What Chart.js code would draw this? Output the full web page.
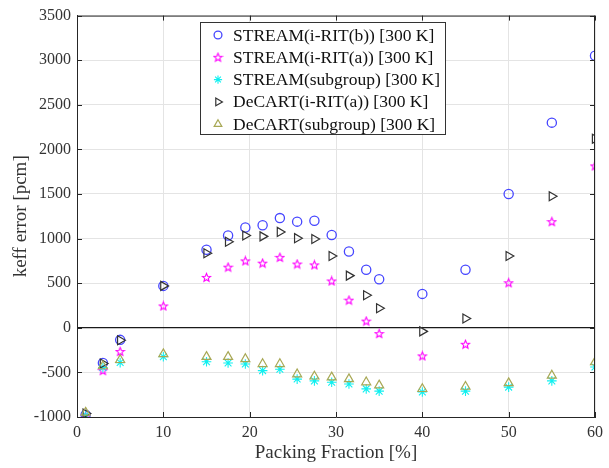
<!DOCTYPE html>
<html><head><meta charset="utf-8">
<script src="https://cdn.jsdelivr.net/npm/chart.js@4/dist/chart.umd.min.js"></script>
<style>html,body{margin:0;padding:0;background:#fff}#wrap{width:609px;height:468px;position:relative}</style>
</head><body><div id="wrap"><canvas id="c"></canvas></div>
<script>
// ---- data ----
const packingFraction = [1,3,5,10,15,17.5,19.5,21.5,23.5,25.5,27.5,29.5,31.5,33.5,35,40,45,50,55,60];
const streamIritB    = [-975,-395,-135,470,875,1035,1125,1150,1230,1190,1200,1040,855,650,545,380,650,1500,2300,3050];
const streamIritA    = [-990,-480,-265,245,565,680,750,725,790,715,705,525,310,75,-65,-315,-185,505,1190,1815];
const streamSubgroup = [-980,-445,-390,-325,-380,-395,-405,-480,-465,-575,-595,-610,-630,-685,-710,-720,-710,-665,-595,-440];
const decartIritA    = [-960,-400,-140,470,835,965,1035,1025,1075,1005,995,805,585,365,220,-40,105,805,1475,2120];
const decartSubgroup = [-950,-430,-360,-295,-325,-325,-350,-405,-405,-520,-545,-555,-575,-610,-645,-685,-660,-620,-535,-385];
const seriesLabels = ['STREAM(i-RIT(b)) [300 K]','STREAM(i-RIT(a)) [300 K]','STREAM(subgroup) [300 K]','DeCART(i-RIT(a)) [300 K]','DeCART(subgroup) [300 K]'];
const xAxisTitle = 'Packing Fraction [%]';
const yAxisTitle = 'keff error [pcm]';

const FONT = "'Liberation Serif','Times New Roman',serif";

// five-pointed star marker
function makeStar(color){
  const c = document.createElement('canvas');
  c.width = 11; c.height = 11;
  const g = c.getContext('2d');
  g.strokeStyle = color; g.lineWidth = 1.1;
  g.beginPath();
  const cx = 5.5, cy = 5.8, ro = 4.3, ri = 1.9;
  for (let i = 0; i < 10; i++){
    const r = i % 2 ? ri : ro;
    const a = -Math.PI/2 + i*Math.PI/5;
    const px = cx + r*Math.cos(a), py = cy + r*Math.sin(a);
    if (i === 0) g.moveTo(px, py); else g.lineTo(px, py);
  }
  g.closePath(); g.stroke();
  return c;
}
const starImg = makeStar('#ff00ff');

function mk(arr){ return packingFraction.map((x,i)=>({x, y: arr[i]})); }

const datasets = [
  {label: seriesLabels[0], data: mk(streamIritB), pointStyle:'circle', radius:4.6, borderColor:'#4646ff', borderWidth:1.3, order:5},
  {label: seriesLabels[1], data: mk(streamIritA), pointStyle:starImg, radius:5, borderColor:'#ff00ff', borderWidth:1.1, order:4},
  {label: seriesLabels[2], data: mk(streamSubgroup), pointStyle:'star', radius:4.8, borderColor:'#10f0f0', borderWidth:1.1, order:3},
  {label: seriesLabels[3], data: mk(decartIritA), pointStyle:'triangle', rotation:90, radius:5.2, borderColor:'#333333', borderWidth:1.2, order:2},
  {label: seriesLabels[4], data: mk(decartSubgroup), pointStyle:'triangle', radius:5.2, borderColor:'#a8a855', borderWidth:1.2, order:1}
].map(d => Object.assign(d, {showLine:false, backgroundColor:'rgba(0,0,0,0)', pointRadius:d.radius, pointHoverRadius:d.radius, pointBorderWidth:d.borderWidth, pointRotation:d.rotation||0}));

const frame = {
  id:'frame',
  afterDraw(chart){
    const {ctx, chartArea:a, scales:{x,y}} = chart;
    ctx.save();
    ctx.strokeStyle = '#262626'; ctx.lineWidth = 1;
    ctx.beginPath();
    ctx.moveTo(a.left, a.top+0.5); ctx.lineTo(a.right, a.top+0.5);
    ctx.moveTo(a.right-0.5, a.top); ctx.lineTo(a.right-0.5, a.bottom);
    const tl = 5;
    x.ticks.forEach(t => {
      const px = Math.round(x.getPixelForValue(t.value)) + 0.5;
      ctx.moveTo(px, a.bottom); ctx.lineTo(px, a.bottom - tl);
      ctx.moveTo(px, a.top); ctx.lineTo(px, a.top + tl);
    });
    y.ticks.forEach(t => {
      const py = Math.round(y.getPixelForValue(t.value)) + 0.5;
      ctx.moveTo(a.left, py); ctx.lineTo(a.left + tl, py);
      ctx.moveTo(a.right, py); ctx.lineTo(a.right - tl, py);
    });
    ctx.stroke();

    // legend box
    const bx = 200.5, by = 22.5, bw = 245, bh = 112;
    ctx.fillStyle = '#fff';
    ctx.fillRect(bx, by, bw, bh);
    ctx.strokeStyle = '#333'; ctx.lineWidth = 1;
    ctx.strokeRect(bx, by, bw, bh);
    ctx.font = '17.5px ' + FONT;
    ctx.textBaseline = 'middle'; ctx.textAlign = 'left';
    chart.data.datasets.forEach((d, i) => {
      const ly = 35 + i*22.3;
      ctx.strokeStyle = d.borderColor; ctx.fillStyle = 'rgba(0,0,0,0)';
      ctx.lineWidth = d.borderWidth;
      if (Chart.helpers && Chart.helpers.drawPoint) {
        Chart.helpers.drawPoint(ctx, {pointStyle: d.pointStyle, rotation: d.rotation||0, radius: d.radius*0.85, borderWidth: d.borderWidth}, 218, ly);
      }
      ctx.fillStyle = '#111';
      ctx.fillText(d.label, 233, ly + 1);
    });
    ctx.restore();
  }
};

new Chart(document.getElementById('c'), {
  type:'scatter',
  data:{datasets},
  options:{
    responsive:true, maintainAspectRatio:false, animation:false,
    layout:{padding:{top:11, right:14, left:0, bottom:0}},
    plugins:{legend:{display:false}, tooltip:{enabled:false}},
    scales:{
      x:{type:'linear', min:0, max:60,
        ticks:{stepSize:10, padding:6, color:'#333', font:{family:FONT, size:16}, callback:v => String(v)},
        grid:{color:'#e4e4e4', drawTicks:false, lineWidth:1},
        border:{color:'#262626', width:1},
        title:{display:true, text:xAxisTitle, color:'#333', font:{family:FONT, size:19, lineHeight:1.2}, padding:{top:0, bottom:4}},
        afterFit(s){ s.height = 51; }
      },
      y:{type:'linear', min:-1000, max:3500,
        ticks:{stepSize:500, padding:6, color:'#333', font:{family:FONT, size:16}, callback:v => String(v)},
        grid:{color:c => c.tick && c.tick.value === 0 ? '#1a1a1a' : '#e4e4e4', lineWidth:c => c.tick && c.tick.value === 0 ? 1.3 : 1, drawTicks:false},
        border:{color:'#262626', width:1},
        title:{display:true, text:yAxisTitle, color:'#333', font:{family:FONT, size:19, lineHeight:1.2}, padding:{top:10, bottom:0}},
        afterFit(s){ s.width = 77; }
      }
    }
  },
  plugins:[frame]
});
</script></body></html>
